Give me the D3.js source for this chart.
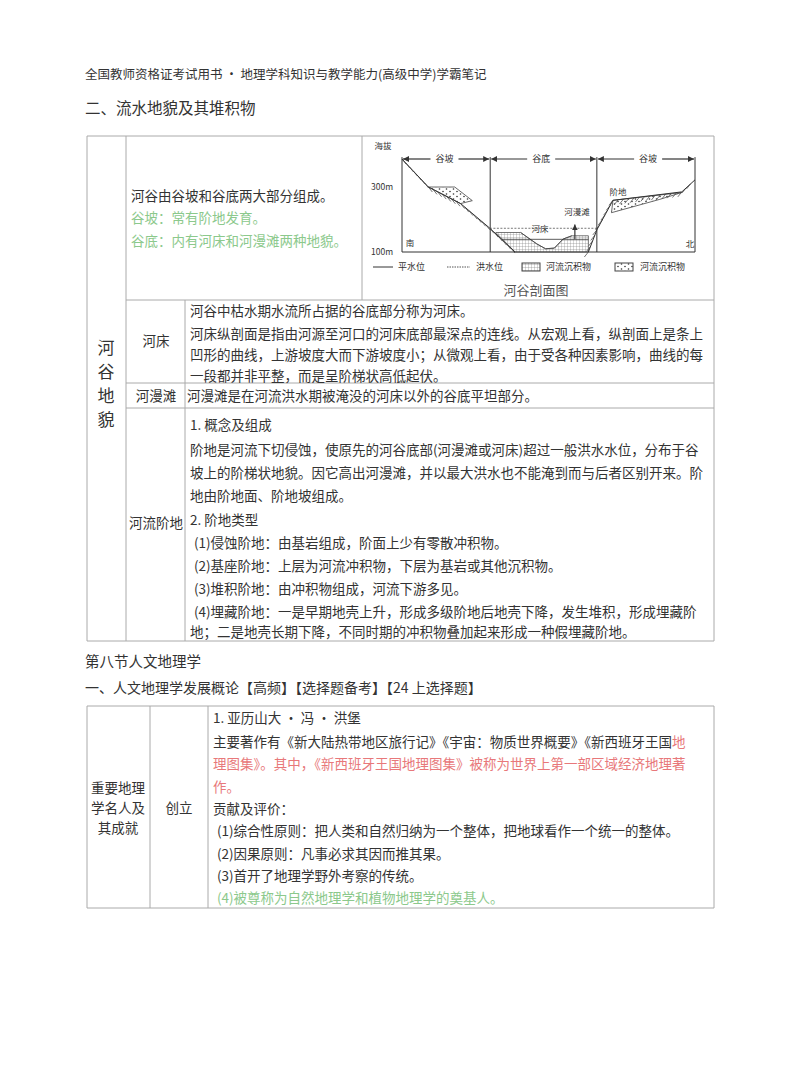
<!DOCTYPE html>
<html><head><meta charset="utf-8">
<script src="https://cdn.jsdelivr.net/npm/d3@7"></script>
<style>body{margin:0;background:#fff}svg text{font-family:"Noto Sans CJK SC",sans-serif;fill:#333}</style>
</head><body><svg id="c" width="800" height="1078"></svg>
<script>
const DARK = "#333", GREEN = "#8cc98c", PINK = "#e8787a";
// text rows: [x, y, segments]
const headerLines = [
  [85, 79, [["全国教师资格证考试用书 • 地理学科知识与教学能力(高级中学)学霸笔记", DARK]], 12.5],
  [85, 114, [["二、流水地貌及其堆积物", DARK]], 15.5],
  [85, 667, [["第八节人文地理学", DARK]], 14.5],
  [85, 693, [["一、人文地理学发展概论【高频】【选择题备考】【24 上选择题】", DARK]], 14]
];
const row1Lines = [
  [131, 201, [["河谷由谷坡和谷底两大部分组成。", DARK]]],
  [131, 223, [["谷坡：常有阶地发育。", GREEN]]],
  [131, 246, [["谷底：内有河床和河漫滩两种地貌。", GREEN]]]
];
const bodyLines = [
  [190, 316, [["河谷中枯水期水流所占据的谷底部分称为河床。", DARK]]],
  [190, 339, [["河床纵剖面是指由河源至河口的河床底部最深点的连线。从宏观上看，纵剖面上是条上", DARK]]],
  [190, 360, [["凹形的曲线，上游坡度大而下游坡度小；从微观上看，由于受各种因素影响，曲线的每", DARK]]],
  [190, 381, [["一段都并非平整，而是呈阶梯状高低起伏。", DARK]]],
  [187, 401, [["河漫滩是在河流洪水期被淹没的河床以外的谷底平坦部分。", DARK]]],
  [190, 430, [["1. 概念及组成", DARK]]],
  [190, 455, [["阶地是河流下切侵蚀，使原先的河谷底部(河漫滩或河床)超过一般洪水水位，分布于谷", DARK]]],
  [190, 478, [["坡上的阶梯状地貌。因它高出河漫滩，并以最大洪水也不能淹到而与后者区别开来。阶", DARK]]],
  [190, 501, [["地由阶地面、阶地坡组成。", DARK]]],
  [190, 525, [["2. 阶地类型", DARK]]],
  [194, 548, [["(1)侵蚀阶地：由基岩组成，阶面上少有零散冲积物。", DARK]]],
  [194, 571, [["(2)基座阶地：上层为河流冲积物，下层为基岩或其他沉积物。", DARK]]],
  [194, 594, [["(3)堆积阶地：由冲积物组成，河流下游多见。", DARK]]],
  [194, 617, [["(4)埋藏阶地：一是早期地壳上升，形成多级阶地后地壳下降，发生堆积，形成埋藏阶", DARK]]],
  [190, 637, [["地；二是地壳长期下降，不同时期的冲积物叠加起来形成一种假埋藏阶地。", DARK]]],
  [213, 723, [["1. 亚历山大 • 冯 • 洪堡", DARK]]],
  [213, 747, [["主要著作有《新大陆热带地区旅行记》《宇宙：物质世界概要》《新西班牙王国", DARK], ["地", PINK]]],
  [213, 769, [["理图集》。其中，《新西班牙王国地理图集》被称为世界上第一部区域经济地理著", PINK]]],
  [213, 792, [["作。", PINK]]],
  [213, 814, [["贡献及评价：", DARK]]],
  [217, 836, [["(1)综合性原则：把人类和自然归纳为一个整体，把地球看作一个统一的整体。", DARK]]],
  [217, 859, [["(2)因果原则：凡事必求其因而推其果。", DARK]]],
  [217, 881, [["(3)首开了地理学野外考察的传统。", DARK]]],
  [217, 903, [["(4)被尊称为自然地理学和植物地理学的奠基人。", GREEN]]]
];
const cellLabels = [
  [156, 346, "河床"], [156, 401, "河漫滩"], [156, 528, "河流阶地"],
  [118, 793, "重要地理"], [118, 813, "学名人及"], [118, 833, "其成就"], [179, 813, "创立"]
];
const verticalLabel = ["河", "谷", "地", "貌"];
// table grid lines [x1,y1,x2,y2]
const gridLines = [
  [87,136,714,136],[87,136,87,641],[714,136,714,641],[87,641,714,641],
  [126,136,126,641],[362,136,362,300],[126,300,714,300],[126,383,714,383],[126,408,714,408],[185,300,185,641],
  [87,706,714,706],[87,908,714,908],[87,706,87,908],[714,706,714,908],[150,706,150,908],[208,706,208,908]
];

// valley profile (distance 0-100, elevation m)
const leftSlope = [[0,386],[9,300],[20,249],[30,173],[38.6,100]];
const rightSlope = [[63.6,100],[66.5,168],[72,259],[95.5,285],[100,322]];
const leftTerrace = [[9,300],[18,300],[24,258],[20,249]];
const rightTerrace = [[72,259],[95.5,283],[88,262],[71.5,221]];
const sediment = [[32,160],[40.5,160],[46,125],[49,110],[52,112],[55,140],[58,150],[63.6,150],[63.6,100],[38.6,100]];
const channel = [[40.5,160],[46,125],[49,110],[52,112],[55,140],[58,150]];
const lowWater = 139, floodWater = 173;
const dividers = [30.1, 66.5];
const zoneLabels = [[14.5,"谷坡"],[47.5,"谷底"],[84,"谷坡"]];

const svg = d3.select("#c");
const x = d3.scaleLinear().domain([0,100]).range([402,695]);
const y = d3.scaleLinear().domain([100,300]).range([252,187]);

svg.selectAll("line.g").data(gridLines).enter().append("line")
  .attr("x1",d=>d[0]).attr("y1",d=>d[1]).attr("x2",d=>d[2]).attr("y2",d=>d[3])
  .attr("stroke","#aaa").attr("stroke-width",1);

function writeLines(rows, size) {
  rows.forEach(r => {
    const t = svg.append("text").attr("x", r[0]).attr("y", r[1]).style("font-size", (r[3] || size) + "px");
    r[2].forEach(s => t.append("tspan").text(s[0]).style("fill", s[1]));
  });
}
writeLines(headerLines, 14);
writeLines(row1Lines, 13.5);
writeLines(bodyLines, 13.5);
svg.selectAll("text.cl").data(cellLabels).enter().append("text")
  .attr("x",d=>d[0]).attr("y",d=>d[1]).attr("text-anchor","middle").style("font-size","13.5px").text(d=>d[2]);
svg.selectAll("text.vl").data(verticalLabel).enter().append("text")
  .attr("x",106).attr("y",(d,i)=>354+i*24).attr("text-anchor","middle").style("font-size","17px").text(d=>d);

// diagram
const defs = svg.append("defs");
const grid = defs.append("pattern").attr("id","grid").attr("width",3).attr("height",3).attr("patternUnits","userSpaceOnUse");
grid.append("rect").attr("width",3).attr("height",3).attr("fill","#fff");
grid.append("path").attr("d","M0,0H3M0,0V3").attr("stroke","#777").attr("stroke-width",0.6);
const dots = defs.append("pattern").attr("id","dots").attr("width",7).attr("height",5).attr("patternUnits","userSpaceOnUse");
dots.append("rect").attr("width",7).attr("height",5).attr("fill","#fff");
dots.append("circle").attr("cx",2).attr("cy",1.5).attr("r",0.8).attr("fill","#333");
dots.append("circle").attr("cx",5.5).attr("cy",4).attr("r",0.8).attr("fill","#333");

const line = d3.line().x(d=>x(d[0])).y(d=>y(d[1]));
const g = svg.append("g");
g.append("path").attr("d", line(sediment)+"Z").attr("fill","url(#grid)").attr("stroke","#555").attr("stroke-width",0.8);
g.append("path").attr("d", line(leftTerrace)+"Z").attr("fill","url(#dots)").attr("stroke","#444").attr("stroke-width",0.8);
g.append("path").attr("d", line(rightTerrace)+"Z").attr("fill","url(#dots)").attr("stroke","#444").attr("stroke-width",0.8);
g.append("path").attr("d", line(channel)).attr("fill","none").attr("stroke","#444").attr("stroke-width",0.8);

// hatch ticks under slopes
function hatch(pts, side) {
  for (let i = 0; i < pts.length - 1; i++) {
    const x0 = x(pts[i][0]), y0 = y(pts[i][1]), x1 = x(pts[i+1][0]), y1 = y(pts[i+1][1]);
    const len = Math.hypot(x1-x0, y1-y0), n = Math.floor(len / 5);
    for (let k = 0; k < n; k++) {
      const px = x0 + (x1-x0)*k/n, py = y0 + (y1-y0)*k/n;
      g.append("line").attr("x1",px).attr("y1",py).attr("x2",px+side*4).attr("y2",py+5)
        .attr("stroke","#555").attr("stroke-width",0.8);
    }
  }
}
hatch(leftSlope, 1);
hatch(rightSlope, -1);
g.append("path").attr("d", line(leftSlope)).attr("fill","none").attr("stroke","#333").attr("stroke-width",1);
g.append("path").attr("d", line(rightSlope)).attr("fill","none").attr("stroke","#333").attr("stroke-width",1);

// axes frame
g.append("path").attr("d",`M${x(0)},${y(392)}V${y(100)}H${x(100)}V${y(392)}`).attr("fill","none").attr("stroke","#333").attr("stroke-width",1);
dividers.forEach(d => g.append("line").attr("x1",x(d)).attr("x2",x(d)).attr("y1",y(392)).attr("y2",y(100)).attr("stroke","#333"));
g.append("line").attr("x1",x(30)).attr("x2",x(66.5)).attr("y1",y(floodWater)).attr("y2",y(floodWater)).attr("stroke","#555").attr("stroke-dasharray","2,1.5").attr("stroke-width",0.8);
g.append("line").attr("x1",x(34)).attr("x2",x(63.6)).attr("y1",y(lowWater)).attr("y2",y(lowWater)).attr("stroke","#333").attr("stroke-width",0.8);

// zone arrows
defs.append("marker").attr("id","ar").attr("viewBox","0 0 6 6").attr("refX",6).attr("refY",3).attr("markerWidth",5).attr("markerHeight",5).attr("orient","auto-start-reverse")
  .append("path").attr("d","M0,0L6,3L0,6Z").attr("fill","#333");
const bounds = [0, ...dividers, 100];
zoneLabels.forEach((z, i) => {
  const a = x(bounds[i]), b = x(bounds[i+1]), m = x(z[0]);
  [[m-14, a+1], [m+14, b-1]].forEach(s => g.append("line").attr("x1",s[0]).attr("x2",s[1]).attr("y1",159).attr("y2",159)
    .attr("stroke","#333").attr("stroke-width",1.2).attr("marker-end","url(#ar)"));
  g.append("text").attr("x",m).attr("y",162).attr("text-anchor","middle").style("font-size","9px").text(z[1]);
});
g.append("line").attr("x1",x(59)).attr("x2",x(59)).attr("y1",y(lowWater)).attr("y2",y(185))
  .attr("stroke","#333").attr("stroke-width",1.2).attr("marker-end","url(#ar)");

const diagramText = [[383,149,"海拔"],[382,190,"300m"],[382,255,"100m"],[410,246,"南"],[690,247,"北"],
  [618,195,"阶地"],[577,215,"河漫滩"],[540,232,"河床"]];
g.selectAll("text.dt").data(diagramText).enter().append("text")
  .attr("x",d=>d[0]).attr("y",d=>d[1]).attr("text-anchor","middle").style("font-size","8.5px").text(d=>d[2]);

// legend
const lg = svg.append("g");
lg.append("line").attr("x1",373).attr("x2",393).attr("y1",267).attr("y2",267).attr("stroke","#333");
lg.append("line").attr("x1",447).attr("x2",470).attr("y1",267).attr("y2",267).attr("stroke","#555").attr("stroke-dasharray","1.5,1");
lg.append("rect").attr("x",522).attr("y",263).attr("width",18).attr("height",8).attr("fill","url(#grid)").attr("stroke","#444");
lg.append("rect").attr("x",615).attr("y",263).attr("width",18).attr("height",8).attr("fill","url(#dots)").attr("stroke","#444");
[[398,"平水位"],[476,"洪水位"],[546,"河流沉积物"],[640,"河流沉积物"]].forEach(d =>
  lg.append("text").attr("x",d[0]).attr("y",270).style("font-size","9px").text(d[1]));
lg.append("text").attr("x",536).attr("y",295).attr("text-anchor","middle").style("font-size","13px").style("fill","#555").text("河谷剖面图");
</script></body></html>
